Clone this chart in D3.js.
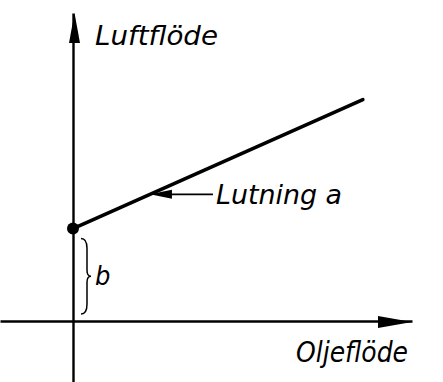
<!DOCTYPE html>
<html>
<head>
<meta charset="utf-8">
<script src="https://cdn.jsdelivr.net/npm/d3@7"></script>
<style>
  body { margin: 0; background: #fff; }
  svg text { font-family: "DejaVu Sans Condensed", "DejaVu Sans", sans-serif; font-style: italic; fill: #000; }
</style>
</head>
<body>
<svg id="chart"></svg>
<script>
// model: luftflöde = a * oljeflöde + b (arbitrary units)
const interceptB = 3.0;
const slopeA = 0.49;
const lineX = [0, 8.55];
const pointerX = 2.27;
const axisTitles = ["Oljeflöde", "Luftflöde"];
const annotations = ["Lutning a", "b"];

const width = 443, height = 382;

const svg = d3.select("#chart")
    .attr("width", width)
    .attr("height", height);

// scales: origin sits inside the picture, axes run past it
const xScale = d3.scaleLinear().domain([0, 10]).range([73, 412]);
const yScale = d3.scaleLinear().domain([0, 10]).range([321, 13]);

const x0 = xScale.invert(0);
const yBottom = yScale.invert(height);

// axes as bare lines
const xAxis = d3.axisBottom(d3.scaleLinear().domain([x0, 10]).range([0, 412]))
    .tickValues([]).tickSizeOuter(0);
const yAxis = d3.axisLeft(d3.scaleLinear().domain([yBottom, 10]).range([height, 13]))
    .tickValues([]).tickSizeOuter(0);

svg.append("g")
    .attr("transform", `translate(0,${yScale(0)})`)
    .call(xAxis)
    .select(".domain").attr("stroke", "#000").attr("stroke-width", 2.4);

svg.append("g")
    .attr("transform", `translate(${xScale(0)},0)`)
    .call(yAxis)
    .select(".domain").attr("stroke", "#000").attr("stroke-width", 2.4);

// arrow heads
const xt = xScale(10), yt = yScale(0);
svg.append("path")
    .attr("d", `M${xt},${yt + 1} L${xt - 34},${yt - 5} L${xt - 34},${yt + 7} Z`)
    .attr("fill", "#000");

const vx = xScale(0), vy = yScale(10);
svg.append("path")
    .attr("d", `M${vx + 1.5},${vy} L${vx - 4},${vy + 30} L${vx + 7},${vy + 30} Z`)
    .attr("fill", "#000");

// the fitted line
const line = d3.line()
    .x(d => xScale(d))
    .y(d => yScale(slopeA * d + interceptB));

svg.append("path")
    .datum(lineX)
    .attr("d", line)
    .attr("fill", "none")
    .attr("stroke", "#000")
    .attr("stroke-width", 3.6)
    .attr("stroke-linecap", "round");

svg.append("circle")
    .attr("cx", xScale(0))
    .attr("cy", yScale(interceptB))
    .attr("r", 6)
    .attr("fill", "#000");

// pointer for "Lutning a"
const px = xScale(pointerX), py = yScale(slopeA * pointerX + interceptB);
svg.append("line")
    .attr("x1", px + 18).attr("y1", py)
    .attr("x2", px + 63).attr("y2", py)
    .attr("stroke", "#000").attr("stroke-width", 1.6);
svg.append("path")
    .attr("d", `M${px},${py} L${px + 22},${py - 4.5} L${px + 22},${py + 4.5} Z`)
    .attr("fill", "#000");

svg.append("text")
    .attr("x", px + 66).attr("y", py + 10)
    .attr("font-size", 27)
    .attr("textLength", 126).attr("lengthAdjust", "spacingAndGlyphs")
    .text(annotations[0]);

// brace marking b
const bTop = yScale(interceptB) + 10, bBot = yScale(0) - 7, bMid = (bTop + bBot) / 2;
const bx = xScale(0) + 8;
svg.append("path")
    .attr("d", `M${bx},${bTop} Q${bx + 6},${bTop} ${bx + 6},${bTop + 10}
                L${bx + 6},${bMid - 6} Q${bx + 6},${bMid} ${bx + 10},${bMid}
                Q${bx + 6},${bMid} ${bx + 6},${bMid + 6}
                L${bx + 6},${bBot - 10} Q${bx + 6},${bBot} ${bx},${bBot}`)
    .attr("fill", "none")
    .attr("stroke", "#000")
    .attr("stroke-width", 1.5);

svg.append("text")
    .attr("x", xScale(0) + 22).attr("y", bMid + 9)
    .attr("font-size", 27)
    .text(annotations[1]);

// axis titles
svg.append("text")
    .attr("x", xScale(0) + 22).attr("y", yScale(10) + 32)
    .attr("font-size", 27)
    .attr("textLength", 123).attr("lengthAdjust", "spacingAndGlyphs")
    .text(axisTitles[1]);

svg.append("text")
    .attr("x", 296).attr("y", yScale(0) + 41)
    .attr("font-size", 28)
    .attr("textLength", 112).attr("lengthAdjust", "spacingAndGlyphs")
    .text(axisTitles[0]);
</script>
</body>
</html>
